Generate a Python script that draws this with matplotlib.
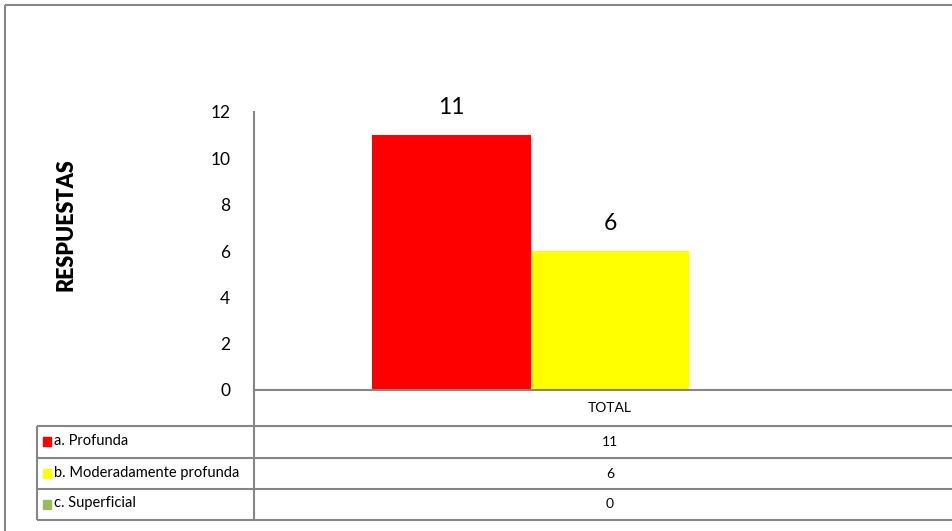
import numpy as np
import matplotlib.pyplot as plt

plt.rcParams['font.family'] = ['Lato', 'DejaVu Sans']

# data
series = ['a. Profunda', 'b. Moderadamente profunda', 'c. Superficial']
values = [11, 6, 0]
colors = ['#FF0000', '#FFFF00', '#9BBB59']
category = 'TOTAL'
y_label = 'RESPUESTAS'

W, H = 953, 531
grey = '#868686'

fig = plt.figure(figsize=(W / 100, H / 100), dpi=100)

# plot area (pixel box 254..966 x 112..390)
ax = fig.add_axes([254 / W, (H - 390) / H, (966 - 254) / W, (390 - 112) / H])
pos = np.arange(len(values)) - 1
ax.bar(pos, values, width=1.0, color=colors, zorder=2)
ax.set_xlim(-2.243, 2.243)
ax.set_ylim(0, 12)
ax.set_yticks(np.arange(0, 13, 2))
ax.set_xticks([])
for s in ['top', 'right']:
    ax.spines[s].set_visible(False)
ax.spines['left'].set_color(grey)
ax.spines['left'].set_linewidth(1.5)
ax.spines['bottom'].set_color(grey)
ax.spines['bottom'].set_linewidth(1.5)
ax.tick_params(axis='y', length=0, pad=17, labelsize=12.5)

for x, v in zip(pos, values):
    if v > 0:
        ax.annotate(str(v), (x, v), xytext=(0, 12), textcoords='offset points',
                    ha='center', va='bottom', fontsize=16.5)

fig.text(66 / W, 1 - 225 / H, y_label, rotation=90, ha='center', va='center',
         fontsize=15.5, fontweight='heavy')

# data table + outer border drawn in pixel space
tb = fig.add_axes([0, 0, 1, 1], zorder=-1)
tb.set_xlim(0, W)
tb.set_ylim(H, 0)
tb.axis('off')

lk = dict(color=grey, lw=1.5, solid_capstyle='butt')
tb.plot([5, 5], [5, H], **lk)
tb.plot([5, W], [5, 5], **lk)

rows_y = [426, 458, 489, 520]
for y in rows_y:
    tb.plot([37, W], [y, y], **lk)
tb.plot([254, 254], [390, 520], **lk)
tb.plot([37, 37], [426, 520], **lk)

cx = 610
tb.text(cx, 408, category, ha='center', va='center', fontsize=10)
for i, (name, v, c) in enumerate(zip(series, values, colors)):
    yc = (rows_y[i] + rows_y[i + 1]) / 2
    tb.add_patch(plt.Rectangle((43, yc - 5), 8, 9, color=c))
    tb.text(54, yc - 1, name, ha='left', va='center', fontsize=10.5)
    tb.text(cx, yc, str(v), ha='center', va='center', fontsize=10)

fig.savefig('out.png', dpi=100)
